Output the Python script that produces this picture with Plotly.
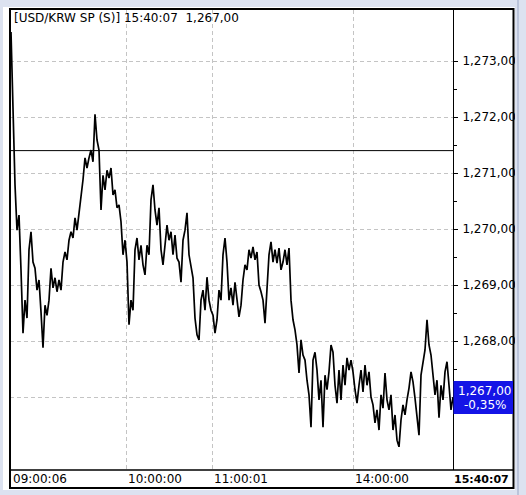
import plotly.graph_objects as go

# USD/KRW spot intraday ticks (KRW)
price = [
    1273.52, 1271.95, 1270.79, 1269.98, 1270.25, 1269.27, 1268.14, 1268.73, 1268.41, 1269.63,
    1269.95, 1269.41, 1269.30, 1268.91, 1269.09, 1268.52, 1267.88, 1268.64, 1268.46, 1268.73,
    1269.30, 1268.95, 1269.13, 1268.88, 1269.09, 1268.91, 1269.41, 1269.59, 1269.45, 1269.80,
    1269.95, 1269.84, 1270.20, 1269.98, 1270.25, 1270.55, 1270.88, 1271.27, 1271.09, 1271.27,
    1271.41, 1271.20, 1272.05, 1271.59, 1271.41, 1270.34, 1270.96, 1270.70, 1271.05, 1270.91,
    1271.09, 1270.61, 1270.70, 1270.38, 1270.43, 1270.13, 1269.54, 1269.80, 1269.41, 1268.29,
    1268.73, 1268.55, 1269.63, 1269.84, 1269.45, 1269.71, 1269.36, 1269.18, 1269.71, 1269.54,
    1270.52, 1270.79, 1270.34, 1270.07, 1270.38, 1269.63, 1269.36, 1269.71, 1270.07, 1269.80,
    1269.95, 1269.54, 1269.89, 1269.48, 1269.41, 1269.05, 1269.80, 1269.98, 1270.29, 1269.54,
    1269.36, 1269.13, 1268.41, 1268.11, 1268.02, 1268.73, 1268.91, 1268.55, 1269.14, 1268.73,
    1268.55, 1268.46, 1268.14, 1268.38, 1268.91, 1268.73, 1269.54, 1269.84, 1269.41, 1268.73,
    1268.95, 1268.64, 1269.05, 1268.73, 1268.43, 1268.64, 1269.09, 1269.36, 1269.27, 1269.63,
    1269.48, 1269.68, 1269.45, 1269.59, 1269.00, 1268.88, 1268.73, 1268.32, 1268.91, 1269.54,
    1269.77, 1269.41, 1269.63, 1269.39, 1269.66, 1269.27, 1269.41, 1269.63, 1269.36, 1269.66,
    1268.73, 1268.38, 1268.20, 1267.93, 1267.43, 1268.02, 1267.75, 1267.66, 1267.30, 1267.04,
    1266.46, 1267.66, 1267.80, 1267.48, 1266.95, 1267.30, 1266.46, 1267.39, 1267.13, 1267.45,
    1267.93, 1267.80, 1267.21, 1266.89, 1267.48, 1266.95, 1267.57, 1267.21, 1267.70, 1267.48,
    1267.66, 1267.45, 1267.13, 1266.89, 1267.21, 1267.48, 1267.09, 1267.57, 1267.21, 1267.45,
    1267.00, 1266.86, 1266.54, 1266.77, 1266.41, 1267.04, 1266.80, 1267.43, 1266.95, 1266.77,
    1267.04, 1266.41, 1266.68, 1266.23, 1266.11, 1266.59, 1266.86, 1266.68, 1266.95, 1267.16,
    1267.45, 1267.27, 1266.98, 1266.68, 1266.32, 1267.39, 1267.66, 1267.84, 1268.38, 1267.93,
    1267.75, 1267.34, 1267.04, 1267.30, 1266.63, 1267.21, 1266.95, 1267.45, 1267.63, 1267.21,
    1266.77, 1267.00,
]
tick_index = list(range(len(price)))

time_labels = ["09:00:06", "10:00:00", "11:00:01", "14:00:00"]
time_pos = [0, 57.5, 100.5, 171]
last_time = "15:40:07"

y_major = [1267, 1268, 1269, 1270, 1271, 1272, 1273]
y_minor = [1267.5, 1268.5, 1269.5, 1270.5, 1271.5, 1272.5]
prev_close = 1271.40

last_price = price[-1]
change_pct = (last_price / prev_close - 1) * 100


def krw(v):
    # korean terminal style: 1,267,00
    return f"{v:,.2f}".replace(".", ",")


W, H = 526, 495
ML, MR, MT, MB = 10, 73, 10, 25


def px(x):
    return (x - ML) / (W - ML - MR)


def py(y):
    return (H - MB - y) / (H - MT - MB)


FONT = "DejaVu Sans"

fig = go.Figure()
fig.add_trace(
    go.Scatter(
        x=tick_index,
        y=price,
        mode="lines",
        line=dict(color="black", width=1.7),
        hoverinfo="skip",
    )
)

# previous close line
fig.add_shape(
    type="line", xref="paper", yref="y",
    x0=0, x1=1, y0=prev_close, y1=prev_close,
    line=dict(color="black", width=1),
)

# white panel + border
fig.add_shape(
    type="rect", xref="paper", yref="paper",
    x0=px(3), x1=px(516), y0=py(490), y1=py(7),
    fillcolor="white", line=dict(width=0), layer="below",
)
fig.add_shape(
    type="rect", xref="paper", yref="paper",
    x0=px(10), x1=px(513.5), y0=py(488), y1=py(9),
    line=dict(color="black", width=2), layer="above",
)
fig.add_shape(
    type="line", xref="paper", yref="paper",
    x0=px(10), x1=px(513.5), y0=0, y1=0,
    line=dict(color="black", width=1.5), layer="above",
)
# window frame on the right
fig.add_shape(
    type="rect", xref="paper", yref="paper",
    x0=px(515), x1=px(526), y0=py(495), y1=py(0),
    fillcolor="#dce2f0", line=dict(width=0), layer="above",
)
fig.add_shape(
    type="line", xref="paper", yref="paper",
    x0=px(518), x1=px(518), y0=py(495), y1=py(0),
    line=dict(color="#9aa6c4", width=1), layer="above",
)

# last price box
fig.add_shape(
    type="rect", xref="paper", yref="paper",
    x0=px(453.5), x1=px(513), y0=py(414), y1=py(381),
    fillcolor="#1414e6", line=dict(width=0), layer="above",
)
fig.add_annotation(
    xref="paper", yref="paper", x=px(456), y=py(391),
    text=krw(last_price), showarrow=False, xanchor="left", yanchor="middle",
    font=dict(family=FONT, size=12, color="white"),
)
fig.add_annotation(
    xref="paper", yref="paper", x=px(462), y=py(405),
    text=f"{change_pct:.2f}%".replace(".", ","), showarrow=False,
    xanchor="left", yanchor="middle",
    font=dict(family=FONT, size=12, color="white"),
)

# title line
fig.add_annotation(
    xref="paper", yref="paper", x=px(12), y=py(18),
    text=f"[USD/KRW SP (S)] {last_time}\u00a0\u00a0{krw(last_price)}",
    showarrow=False, xanchor="left", yanchor="middle",
    font=dict(family=FONT, size=12, color="black"),
)

# time labels
for lab, pos in zip(time_labels, time_pos):
    fig.add_annotation(
        xref="x", yref="paper", x=pos, y=py(479),
        text=lab, showarrow=False, xanchor="left", yanchor="middle", xshift=0,
        font=dict(family=FONT, size=12, color="black"),
    )
fig.add_annotation(
    xref="paper", yref="paper", x=px(511), y=py(479),
    text=f"<b>{last_time}</b>", showarrow=False, xanchor="right", yanchor="middle",
    font=dict(family=FONT, size=11, color="black"),
)

# label for the last-price level sits under the blue box
y_text = ["" if v == round(last_price) else krw(v) for v in y_major]

fig.update_layout(
    width=W,
    height=H,
    margin=dict(l=ML, r=MR, t=MT, b=MB),
    paper_bgcolor="#dce2f0",
    plot_bgcolor="white",
    showlegend=False,
    xaxis=dict(
        range=[-0.5, len(price) - 1],
        tickvals=time_pos[1:],
        showticklabels=False,
        ticks="",
        showgrid=True,
        gridcolor="#c4c4c4",
        griddash="4px,3px",
        gridwidth=1,
        zeroline=False,
        showline=False,
        fixedrange=True,
    ),
    yaxis=dict(
        side="right",
        range=[1265.697, 1273.911],
        tickvals=y_major,
        ticktext=y_text,
        ticks="outside",
        ticklen=4,
        tickcolor="black",
        ticklabelstandoff=2,
        tickfont=dict(family=FONT, size=12, color="black"),
        showgrid=True,
        gridcolor="#c4c4c4",
        griddash="4px,3px",
        gridwidth=1,
        zeroline=False,
        showline=True,
        linecolor="black",
        linewidth=1,
        minor=dict(tickvals=y_minor, ticks="outside", ticklen=3, tickcolor="black", showgrid=False),
        fixedrange=True,
    ),
)

# page opens with the browser's default body margin; remove it
fig.write_html(
    "out.html",
    config={"displayModeBar": False},
    post_script="document.body.style.margin='0';",
)
